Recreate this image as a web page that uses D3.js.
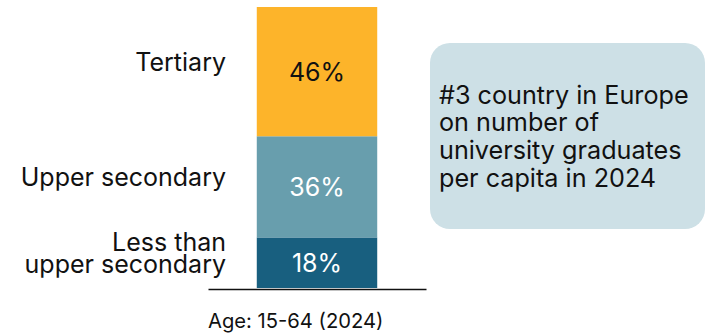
<!DOCTYPE html>
<html><head><meta charset="utf-8">
<script src="https://cdn.jsdelivr.net/npm/d3@7"></script>
<style>html,body{margin:0;padding:0;background:#fff;}svg{display:block;font-family:Inter,sans-serif;}</style>
</head><body>
<svg id="c" width="708" height="335"></svg>
<script>
const categories = ["Less than upper secondary", "Upper secondary", "Tertiary"];
const categoryLines = [["Less than", "upper secondary"], ["Upper secondary"], ["Tertiary"]];
const values = [18, 36, 46];
const valueLabels = ["18%", "36%", "46%"];
const barGroup = ["Age: 15-64 (2024)"];
const calloutLines = ["#3 country in Europe", "on number of", "university graduates", "per capita in 2024"];

const colors = ["#185F7F", "#689EAD", "#FDB42A"];
const textColors = ["#ffffff", "#ffffff", "#111111"];

const svg = d3.select("#c");
const FS = 25;

const y = d3.scaleLinear().domain([0, 100]).range([288, 7]);
const x = d3.scaleBand().domain(barGroup).range([208, 426]).paddingInner(0).paddingOuter(0.405);

let acc = 0;
const stacked = values.map((v, i) => { const d = {i, v, y0: acc, y1: acc + v}; acc += v; return d; });

svg.selectAll("rect.seg").data(stacked).join("rect")
  .attr("class", "seg")
  .attr("x", x(barGroup[0]))
  .attr("width", x.bandwidth())
  .attr("y", d => y(d.y1))
  .attr("height", d => y(d.y0) - y(d.y1))
  .attr("fill", d => colors[d.i]);

svg.selectAll("text.val").data(stacked).join("text")
  .attr("class", "val")
  .attr("x", x(barGroup[0]) + x.bandwidth() / 2)
  .attr("y", d => (y(d.y0) + y(d.y1)) / 2 + 9.5)
  .attr("text-anchor", "middle")
  .attr("font-size", 25)
  .attr("fill", d => textColors[d.i])
  .text(d => valueLabels[d.i]);

// category labels
const lh = 22;
stacked.forEach(d => {
  const lines = categoryLines[d.i];
  const cy = (y(d.y0) + y(d.y1)) / 2 - 10;
  const t = svg.append("text")
    .attr("text-anchor", "end")
    .attr("font-size", FS)
    .attr("fill", "#111");
  lines.forEach((l, k) => {
    t.append("tspan")
      .attr("x", 226)
      .attr("y", cy + 9.5 + (k - (lines.length - 1) / 2) * lh)
      .text(l);
  });
});

// baseline axis
const ax = svg.append("g").attr("transform", "translate(0,289)")
  .call(d3.axisBottom(x).tickSize(0).tickFormat(""));
ax.select(".domain").attr("stroke", "#111").attr("stroke-width", 1.5);

svg.append("text")
  .attr("x", 208).attr("y", 328)
  .attr("font-size", 20.2)
  .attr("fill", "#111")
  .text(barGroup[0]);

// callout
svg.append("rect")
  .attr("x", 430).attr("y", 43).attr("width", 275).attr("height", 186)
  .attr("rx", 20).attr("ry", 20)
  .attr("fill", "#CDE0E6");
const ct = svg.append("text").attr("font-size", 25.2).attr("fill", "#111");
calloutLines.forEach((l, k) => {
  ct.append("tspan").attr("x", 439).attr("y", 103.5 + k * 27.8).text(l);
});
</script>
</body></html>
